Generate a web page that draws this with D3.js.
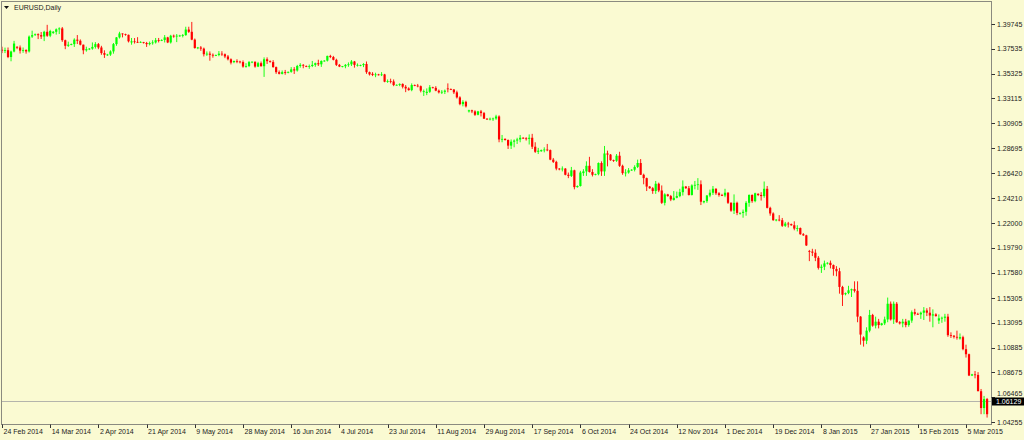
<!DOCTYPE html>
<html>
<head>
<meta charset="utf-8">
<script src="https://cdn.jsdelivr.net/npm/d3@7"></script>
<style>
  body { margin: 0; background: #fafad2; }
  svg text { font-family: "Liberation Sans", Arial, sans-serif; font-size: 7px; fill: #1a1a1a; }
</style>
</head>
<body>
<svg id="chart" width="1024" height="440"></svg>
<script>
// daily bars [open, high, low, close], one small array per month (Sunday bars included)
var feb2014 = [
  [1.3745,1.3772,1.3715,1.3737],[1.3737,1.3764,1.3715,1.3741],[1.3741,1.3765,1.3670,1.3680],
  [1.3680,1.3737,1.3642,1.3729],[1.3729,1.3824,1.3722,1.3800]
];
var mar2014 = [
  [1.3770,1.3778,1.3750,1.3765],[1.3765,1.3783,1.3711,1.3737],[1.3737,1.3765,1.3718,1.3742],
  [1.3742,1.3749,1.3710,1.3730],[1.3730,1.3872,1.3720,1.3862],[1.3862,1.3915,1.3850,1.3875],
  [1.3880,1.3890,1.3868,1.3883],[1.3883,1.3891,1.3840,1.3875],[1.3875,1.3903,1.3841,1.3863],
  [1.3863,1.3914,1.3822,1.3905],[1.3905,1.3967,1.3860,1.3870],[1.3870,1.3923,1.3857,1.3912],
  [1.3895,1.3912,1.3886,1.3905],[1.3905,1.3935,1.3880,1.3927],[1.3927,1.3945,1.3885,1.3935],
  [1.3935,1.3948,1.3815,1.3830],[1.3830,1.3835,1.3750,1.3780],[1.3780,1.3817,1.3770,1.3790],
  [1.3790,1.3800,1.3785,1.3795],[1.3795,1.3847,1.3770,1.3835],[1.3835,1.3876,1.3796,1.3825],
  [1.3825,1.3837,1.3784,1.3790],[1.3790,1.3791,1.3705,1.3740],[1.3740,1.3772,1.3728,1.3750],
  [1.3750,1.3760,1.3742,1.3755],[1.3755,1.3810,1.3745,1.3770]
];
var apr2014 = [
  [1.3770,1.3813,1.3755,1.3795],[1.3795,1.3805,1.3750,1.3765],[1.3765,1.3780,1.3700,1.3715],
  [1.3715,1.3740,1.3672,1.3700],[1.3700,1.3708,1.3690,1.3702],[1.3702,1.3740,1.3690,1.3730],
  [1.3730,1.3805,1.3710,1.3795],[1.3795,1.3858,1.3780,1.3855],[1.3855,1.3905,1.3845,1.3890],
  [1.3890,1.3891,1.3855,1.3885],[1.3885,1.3888,1.3870,1.3878],[1.3878,1.3880,1.3810,1.3820],
  [1.3810,1.3850,1.3790,1.3820],[1.3820,1.3849,1.3800,1.3815],[1.3815,1.3857,1.3805,1.3812],
  [1.3812,1.3820,1.3805,1.3815],[1.3812,1.3815,1.3800,1.3805],[1.3805,1.3815,1.3770,1.3795],
  [1.3795,1.3818,1.3784,1.3805],[1.3805,1.3830,1.3790,1.3810],[1.3810,1.3850,1.3800,1.3830],
  [1.3830,1.3850,1.3810,1.3828],[1.3830,1.3838,1.3822,1.3832],[1.3832,1.3876,1.3810,1.3855],
  [1.3855,1.3860,1.3804,1.3810],[1.3810,1.3878,1.3800,1.3870]
];
var may2014 = [
  [1.3870,1.3880,1.3852,1.3868],[1.3868,1.3885,1.3813,1.3870],[1.3870,1.3878,1.3860,1.3872],
  [1.3872,1.3885,1.3855,1.3875],[1.3875,1.3950,1.3870,1.3925],[1.3925,1.3950,1.3895,1.3905],
  [1.3905,1.3993,1.3830,1.3835],[1.3835,1.3845,1.3755,1.3760],[1.3760,1.3770,1.3750,1.3765],
  [1.3765,1.3778,1.3735,1.3755],[1.3755,1.3764,1.3685,1.3705],[1.3705,1.3730,1.3690,1.3710],
  [1.3710,1.3730,1.3647,1.3700],[1.3700,1.3712,1.3674,1.3695],[1.3695,1.3702,1.3688,1.3698],
  [1.3698,1.3733,1.3687,1.3710],[1.3710,1.3732,1.3690,1.3705],[1.3705,1.3712,1.3670,1.3685],
  [1.3685,1.3698,1.3650,1.3660],[1.3660,1.3668,1.3614,1.3630],[1.3635,1.3648,1.3625,1.3645],
  [1.3645,1.3660,1.3625,1.3640],[1.3640,1.3647,1.3623,1.3635],[1.3635,1.3650,1.3585,1.3595],
  [1.3595,1.3625,1.3585,1.3600],[1.3600,1.3645,1.3590,1.3635]
];
var jun2014 = [
  [1.3635,1.3642,1.3625,1.3638],[1.3638,1.3640,1.3585,1.3595],[1.3595,1.3637,1.3590,1.3625],
  [1.3625,1.3640,1.3595,1.3598],[1.3598,1.3677,1.3503,1.3660],[1.3660,1.3677,1.3618,1.3643],
  [1.3643,1.3650,1.3630,1.3635],[1.3635,1.3652,1.3585,1.3590],[1.3590,1.3595,1.3530,1.3545],
  [1.3545,1.3560,1.3525,1.3530],[1.3530,1.3560,1.3525,1.3545],[1.3545,1.3565,1.3522,1.3540],
  [1.3540,1.3550,1.3535,1.3548],[1.3548,1.3590,1.3540,1.3570],[1.3570,1.3590,1.3529,1.3560],
  [1.3560,1.3610,1.3550,1.3600],[1.3600,1.3625,1.3585,1.3610],[1.3610,1.3617,1.3580,1.3605],
  [1.3600,1.3605,1.3590,1.3598],[1.3598,1.3613,1.3575,1.3600],[1.3600,1.3645,1.3590,1.3610],
  [1.3610,1.3630,1.3593,1.3625],[1.3625,1.3656,1.3600,1.3615],[1.3615,1.3650,1.3592,1.3645],
  [1.3645,1.3652,1.3638,1.3648],[1.3648,1.3692,1.3640,1.3690]
];
var jul2014 = [
  [1.3690,1.3700,1.3670,1.3680],[1.3680,1.3690,1.3650,1.3655],[1.3655,1.3665,1.3600,1.3610],
  [1.3610,1.3618,1.3590,1.3595],[1.3595,1.3600,1.3588,1.3598],[1.3598,1.3617,1.3580,1.3610],
  [1.3610,1.3632,1.3593,1.3615],[1.3615,1.3653,1.3600,1.3640],[1.3640,1.3645,1.3585,1.3610],
  [1.3605,1.3623,1.3595,1.3610],[1.3605,1.3612,1.3598,1.3608],[1.3608,1.3625,1.3590,1.3618],
  [1.3618,1.3640,1.3530,1.3545],[1.3545,1.3550,1.3515,1.3525],[1.3530,1.3545,1.3510,1.3520],
  [1.3520,1.3540,1.3500,1.3525],[1.3525,1.3530,1.3515,1.3520],[1.3520,1.3545,1.3510,1.3525],
  [1.3525,1.3530,1.3455,1.3460],[1.3460,1.3480,1.3450,1.3465],[1.3465,1.3487,1.3445,1.3462],
  [1.3462,1.3480,1.3420,1.3430],[1.3430,1.3436,1.3425,1.3432],[1.3432,1.3445,1.3420,1.3440],
  [1.3440,1.3445,1.3400,1.3415],[1.3415,1.3430,1.3367,1.3400],[1.3400,1.3410,1.3380,1.3385]
];
var aug2014 = [
  [1.3385,1.3445,1.3375,1.3430],[1.3430,1.3435,1.3420,1.3425],[1.3425,1.3440,1.3410,1.3420],
  [1.3420,1.3426,1.3365,1.3380],[1.3370,1.3390,1.3333,1.3375],[1.3360,1.3400,1.3340,1.3370],
  [1.3370,1.3430,1.3360,1.3410],[1.3410,1.3415,1.3400,1.3405],[1.3405,1.3420,1.3375,1.3380],
  [1.3380,1.3390,1.3355,1.3365],[1.3365,1.3385,1.3350,1.3370],[1.3370,1.3390,1.3350,1.3380],
  [1.3400,1.3445,1.3365,1.3395],[1.3395,1.3400,1.3385,1.3390],[1.3390,1.3395,1.3350,1.3365],
  [1.3365,1.3380,1.3310,1.3320],[1.3320,1.3330,1.3250,1.3260],[1.3260,1.3295,1.3240,1.3280],
  [1.3280,1.3290,1.3230,1.3240],[1.3195,1.3210,1.3185,1.3205],[1.3205,1.3210,1.3180,1.3195],
  [1.3195,1.3205,1.3155,1.3165],[1.3165,1.3200,1.3160,1.3195],[1.3195,1.3208,1.3150,1.3180],
  [1.3180,1.3190,1.3130,1.3130],[1.3130,1.3135,1.3120,1.3125]
];
var sep2014 = [
  [1.3125,1.3140,1.3115,1.3130],[1.3130,1.3140,1.3110,1.3132],[1.3132,1.3165,1.3120,1.3150],
  [1.3150,1.3160,1.2920,1.2945],[1.2945,1.2985,1.2920,1.2950],[1.2950,1.2955,1.2935,1.2940],
  [1.2940,1.2945,1.2860,1.2890],[1.2890,1.2945,1.2860,1.2925],[1.2925,1.2945,1.2875,1.2935],
  [1.2935,1.2960,1.2905,1.2945],[1.2945,1.2985,1.2920,1.2960],[1.2960,1.2965,1.2950,1.2955],
  [1.2955,1.2965,1.2935,1.2950],[1.2950,1.2990,1.2900,1.2960],[1.2960,1.2995,1.2860,1.2880],
  [1.2880,1.2920,1.2825,1.2835],[1.2835,1.2870,1.2815,1.2845],[1.2840,1.2855,1.2835,1.2850],
  [1.2850,1.2875,1.2830,1.2855],[1.2855,1.2905,1.2840,1.2850],[1.2850,1.2855,1.2760,1.2765],
  [1.2765,1.2780,1.2735,1.2745],[1.2745,1.2755,1.2670,1.2685],[1.2685,1.2690,1.2670,1.2680],
  [1.2680,1.2705,1.2660,1.2685],[1.2685,1.2690,1.2625,1.2630]
];
var oct2014 = [
  [1.2630,1.2650,1.2600,1.2620],[1.2620,1.2700,1.2610,1.2670],[1.2670,1.2675,1.2500,1.2520],
  [1.2520,1.2535,1.2515,1.2530],[1.2530,1.2665,1.2525,1.2650],[1.2645,1.2680,1.2620,1.2660],
  [1.2660,1.2750,1.2620,1.2710],[1.2710,1.2790,1.2650,1.2655],[1.2655,1.2680,1.2615,1.2630],
  [1.2630,1.2640,1.2625,1.2635],[1.2635,1.2740,1.2625,1.2735],[1.2735,1.2750,1.2620,1.2660],
  [1.2660,1.2887,1.2620,1.2820],[1.2820,1.2845,1.2705,1.2810],[1.2810,1.2815,1.2755,1.2760],
  [1.2760,1.2765,1.2745,1.2755],[1.2755,1.2815,1.2745,1.2800],[1.2800,1.2835,1.2700,1.2710],
  [1.2710,1.2720,1.2630,1.2645],[1.2645,1.2680,1.2615,1.2650],[1.2650,1.2690,1.2640,1.2670],
  [1.2670,1.2680,1.2665,1.2675],[1.2675,1.2715,1.2660,1.2700],[1.2700,1.2765,1.2690,1.2735],
  [1.2735,1.2770,1.2630,1.2630],[1.2630,1.2640,1.2545,1.2600],[1.2600,1.2605,1.2485,1.2525]
];
var nov2014 = [
  [1.2525,1.2530,1.2505,1.2510],[1.2510,1.2520,1.2460,1.2485],[1.2485,1.2575,1.2460,1.2550],
  [1.2550,1.2560,1.2475,1.2490],[1.2490,1.2535,1.2370,1.2380],[1.2380,1.2465,1.2357,1.2455],
  [1.2455,1.2460,1.2435,1.2440],[1.2440,1.2450,1.2395,1.2410],[1.2405,1.2485,1.2400,1.2425],
  [1.2425,1.2480,1.2420,1.2440],[1.2440,1.2505,1.2430,1.2475],[1.2475,1.2580,1.2445,1.2525],
  [1.2525,1.2530,1.2505,1.2510],[1.2510,1.2530,1.2445,1.2450],[1.2450,1.2545,1.2445,1.2535],
  [1.2535,1.2575,1.2500,1.2540],[1.2540,1.2600,1.2495,1.2545],[1.2545,1.2580,1.2360,1.2390],
  [1.2385,1.2400,1.2375,1.2395],[1.2395,1.2450,1.2380,1.2445],[1.2445,1.2498,1.2430,1.2470],
  [1.2470,1.2530,1.2450,1.2505],[1.2505,1.2510,1.2450,1.2465],[1.2465,1.2475,1.2435,1.2450],
  [1.2450,1.2460,1.2440,1.2445]
];
var dec2014 = [
  [1.2445,1.2505,1.2430,1.2470],[1.2470,1.2475,1.2370,1.2380],[1.2380,1.2385,1.2300,1.2310],
  [1.2310,1.2455,1.2280,1.2380],[1.2380,1.2390,1.2270,1.2290],[1.2285,1.2295,1.2275,1.2290],
  [1.2290,1.2320,1.2247,1.2300],[1.2300,1.2395,1.2265,1.2380],[1.2380,1.2455,1.2345,1.2450],
  [1.2450,1.2455,1.2380,1.2395],[1.2395,1.2470,1.2385,1.2465],[1.2460,1.2465,1.2440,1.2450],
  [1.2450,1.2475,1.2400,1.2440],[1.2440,1.2570,1.2425,1.2505],[1.2505,1.2530,1.2330,1.2335],
  [1.2335,1.2345,1.2265,1.2285],[1.2285,1.2295,1.2220,1.2225],[1.2225,1.2235,1.2215,1.2230],
  [1.2230,1.2270,1.2215,1.2225],[1.2225,1.2245,1.2165,1.2175],[1.2175,1.2210,1.2165,1.2195],
  [1.2195,1.2210,1.2160,1.2190],[1.2190,1.2195,1.2175,1.2180],[1.2180,1.2215,1.2135,1.2150],
  [1.2150,1.2180,1.2125,1.2155],[1.2155,1.2160,1.2095,1.2100]
];
var jan2015 = [
  [1.2100,1.2110,1.2085,1.2090],[1.2090,1.2095,1.1995,1.2000],[1.1950,1.1960,1.1860,1.1945],
  [1.1945,1.1970,1.1905,1.1935],[1.1935,1.1965,1.1860,1.1890],[1.1890,1.1905,1.1785,1.1800],
  [1.1800,1.1830,1.1755,1.1810],[1.1810,1.1865,1.1780,1.1840],[1.1840,1.1850,1.1830,1.1845],
  [1.1845,1.1865,1.1795,1.1825],[1.1825,1.1830,1.1730,1.1790],[1.1790,1.1815,1.1725,1.1770],
  [1.1770,1.1800,1.1570,1.1630],[1.1630,1.1640,1.1460,1.1560],[1.1565,1.1580,1.1555,1.1575],
  [1.1575,1.1640,1.1565,1.1600],[1.1600,1.1615,1.1540,1.1610],[1.1610,1.1680,1.1580,1.1595],
  [1.1595,1.1680,1.1315,1.1365],[1.1365,1.1370,1.1115,1.1205],[1.1180,1.1190,1.1098,1.1150],
  [1.1150,1.1270,1.1120,1.1240],[1.1240,1.1425,1.1225,1.1380],[1.1380,1.1390,1.1275,1.1285],
  [1.1285,1.1365,1.1260,1.1320],[1.1320,1.1345,1.1260,1.1290]
];
var feb2015 = [
  [1.1290,1.1310,1.1285,1.1305],[1.1305,1.1365,1.1290,1.1340],[1.1340,1.1535,1.1315,1.1480],
  [1.1480,1.1500,1.1330,1.1340],[1.1340,1.1500,1.1300,1.1480],[1.1480,1.1495,1.1310,1.1315],
  [1.1315,1.1325,1.1295,1.1305],[1.1305,1.1345,1.1270,1.1320],[1.1320,1.1345,1.1270,1.1290],
  [1.1290,1.1330,1.1275,1.1330],[1.1330,1.1420,1.1310,1.1405],[1.1405,1.1435,1.1375,1.1390],
  [1.1390,1.1400,1.1380,1.1385],[1.1385,1.1410,1.1345,1.1400],[1.1400,1.1450,1.1335,1.1420],
  [1.1420,1.1440,1.1370,1.1400],[1.1400,1.1450,1.1320,1.1375],[1.1375,1.1430,1.1270,1.1385],
  [1.1385,1.1395,1.1365,1.1370],[1.1330,1.1385,1.1300,1.1350],[1.1350,1.1365,1.1310,1.1355],
  [1.1355,1.1390,1.1320,1.1365],[1.1365,1.1390,1.1185,1.1200],[1.1200,1.1225,1.1175,1.1195]
];
var mar2015 = [
  [1.1195,1.1200,1.1170,1.1185],[1.1185,1.1240,1.1160,1.1180],[1.1170,1.1215,1.1160,1.1182],
  [1.1182,1.1195,1.1065,1.1075],[1.1075,1.1115,1.1000,1.1030],[1.1030,1.1035,1.0835,1.0840],
  [1.0840,1.0855,1.0835,1.0850],[1.0850,1.0880,1.0815,1.0845],[1.0845,1.0870,1.0700,1.0700],
  [1.0700,1.0720,1.0495,1.0550],[1.0550,1.0658,1.0495,1.0630],[1.0630,1.0640,1.0465,1.0495]
];

var priceTicks = [1.39745, 1.37535, 1.35325, 1.33115, 1.30905, 1.28695, 1.26420, 1.24210,
  1.22000, 1.19790, 1.17580, 1.15305, 1.13095, 1.10885, 1.08675, 1.06465, 1.04255];
var currentPrice = 1.06129;
var firstDay = new Date(2014, 1, 24);
var holidays = ["2014-12-25"];
var labelEvery = 16;

var bars = [].concat(feb2014, mar2014, apr2014, may2014, jun2014, jul2014, aug2014,
  sep2014, oct2014, nov2014, dec2014, jan2015, feb2015, mar2015);

// trading calendar of the feed: Sunday..Friday
var fmtKey = d3.timeFormat("%Y-%m-%d");
var dates = [];
for (var d = firstDay; dates.length < bars.length; d = d3.timeDay.offset(d, 1)) {
    if (d.getDay() == 6 || holidays.indexOf(fmtKey(d)) >= 0) continue;
    dates.push(d);
}

var width = 1024,
    height = 440,
    plotRight = 991.5,
    plotBottom = 424.5,
    up_color = "#00ff00",
    down_color = "#ff0000",
    frame_color = "#8a8a80";

var svg = d3.select("#chart");

svg.append("rect")
    .attr("width", width)
    .attr("height", height)
    .attr("fill", "#fafad2");

var x = d3.scaleLinear().domain([0, 320]).range([2, 966]);
var y = d3.scaleLinear().domain([1.04255, 1.39745]).range([422, 24]);
var py = Math.round(y(currentPrice)) + 0.5;

// current price line
svg.append("line")
    .attr("x1", 1).attr("x2", plotRight)
    .attr("y1", py).attr("y2", py)
    .attr("stroke", "#b4b4ac")
    .attr("stroke-width", 1);

var g = svg.append("g").attr("class", "candles");

var candle = g.selectAll("g")
    .data(bars)
    .enter().append("g");

candle.append("line")
    .attr("x1", function(d, i) { return x(i); })
    .attr("x2", function(d, i) { return x(i); })
    .attr("y1", function(d) { return y(d[1]); })
    .attr("y2", function(d) { return y(d[2]); })
    .attr("stroke", function(d) { return d[3] >= d[0] ? up_color : down_color; })
    .attr("stroke-width", 0.9);

candle.append("rect")
    .attr("x", function(d, i) { return x(i) - 1.1; })
    .attr("width", 2.2)
    .attr("y", function(d) { return y(Math.max(d[0], d[3])); })
    .attr("height", function(d) { return Math.max(0.8, Math.abs(y(d[0]) - y(d[3]))); })
    .attr("fill", function(d) { return d[3] >= d[0] ? up_color : down_color; });

// frame
svg.append("rect")
    .attr("x", 1.5).attr("y", 1.5)
    .attr("width", plotRight - 1.5)
    .attr("height", plotBottom - 1.5)
    .attr("fill", "none")
    .attr("stroke", frame_color)
    .attr("stroke-width", 1);

// price axis on the right; a label that sits under the price marker is nudged up so it stays readable
function labelY(p) {
    var ly = y(p);
    if (Math.abs(ly - py) < 8) ly = py - 8.5;
    return ly;
}
var yAxis = svg.append("g").attr("class", "y-axis");
yAxis.selectAll("line")
    .data(priceTicks)
    .enter().append("line")
    .attr("x1", plotRight).attr("x2", plotRight + 3.5)
    .attr("y1", function(d) { return Math.round(y(d)) + 0.5; })
    .attr("y2", function(d) { return Math.round(y(d)) + 0.5; })
    .attr("stroke", "#333");
yAxis.selectAll("text")
    .data(priceTicks)
    .enter().append("text")
    .attr("x", 997)
    .attr("y", function(d) { return labelY(d) + 2.6; })
    .text(function(d) { return d.toFixed(5); });

// current price marker
svg.append("rect")
    .attr("x", plotRight + 0.5).attr("y", py - 4)
    .attr("width", width - plotRight).attr("height", 8)
    .attr("fill", "#000");
svg.append("text")
    .attr("x", 996).attr("y", py + 2.6)
    .style("fill", "#fff")
    .text(currentPrice.toFixed(5));

// time axis
var tickIdx = d3.range(0, bars.length, labelEvery);
var fmtDate = d3.timeFormat("%-d %b %Y");
var xAxis = svg.append("g").attr("class", "x-axis");
xAxis.selectAll("line")
    .data(tickIdx)
    .enter().append("line")
    .attr("x1", function(i) { return Math.round(x(i)) + 0.5; })
    .attr("x2", function(i) { return Math.round(x(i)) + 0.5; })
    .attr("y1", plotBottom).attr("y2", plotBottom + 3.5)
    .attr("stroke", "#333");
xAxis.selectAll("text")
    .data(tickIdx)
    .enter().append("text")
    .attr("x", function(i) { return x(i) + 1.5; })
    .attr("y", 434)
    .text(function(i) { return fmtDate(dates[i]); });

// title
svg.append("path")
    .attr("d", "M4,6L9,6L6.5,9Z")
    .attr("fill", "#111");
svg.append("text")
    .attr("x", 14).attr("y", 10)
    .text("EURUSD,Daily");
</script>
</body>
</html>
